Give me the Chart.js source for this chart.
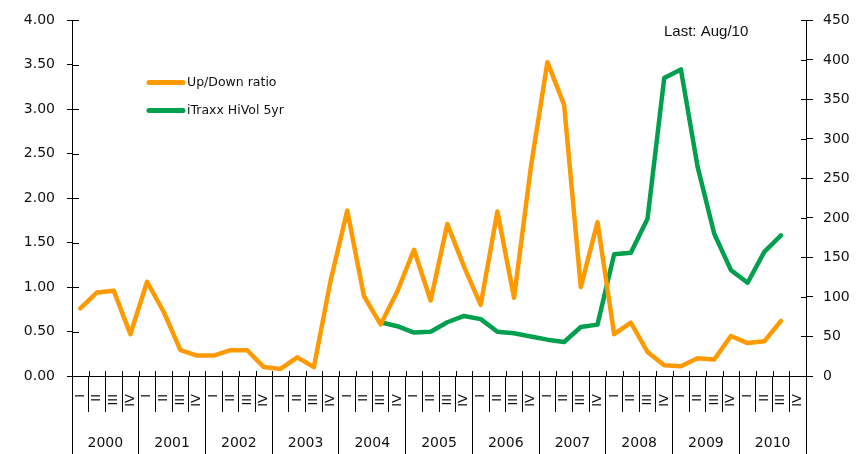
<!doctype html>
<html>
<head>
<meta charset="utf-8">
<title>Up/Down ratio and iTraxx HiVol</title>
<style>
  body { margin: 0; background: #fff; }
  #wrap { position: relative; width: 866px; height: 454px; }
</style>
</head>
<body>
<div id="wrap"><canvas id="chart"></canvas></div>

<script src="https://cdn.jsdelivr.net/npm/chart.js"></script>
<script>
  const years = ['2000', '2001', '2002', '2003', '2004', '2005', '2006', '2007', '2008', '2009', '2010'];
  const quarters = ['I', 'II', 'III', 'IV'];
  const quarterLabels = years.flatMap(() => quarters);

  // left axis, one value per quarter (2000 Q1 .. 2010 Q3)
  const upDownRatio = [
    0.76, 0.94, 0.96, 0.47, 1.06, 0.72, 0.29, 0.23, 0.23, 0.29, 0.29, 0.10,
    0.08, 0.21, 0.10, 1.07, 1.86, 0.90, 0.58, 0.95, 1.42, 0.85, 1.71, 1.23,
    0.80, 1.85, 0.88, 2.34, 3.53, 3.05, 1.00, 1.73, 0.47, 0.60, 0.27, 0.12,
    0.11, 0.20, 0.185, 0.45, 0.37, 0.39, 0.62, null
  ];
  // right axis, starts 2004 Q3
  const itraxxHiVol = [
    null, null, null, null, null, null, null, null, null, null, null, null,
    null, null, null, null, null, null, 68, 63, 55, 56, 68, 76,
    72, 56, 54, 50, 46, 43, 62, 65, 154, 156, 199, 377,
    388, 265, 180, 134, 118, 157, 178, null
  ];

  const leftTicks = { min: 0, max: 4, step: 0.5 };
  const rightTicks = { min: 0, max: 450, step: 50 };

  const ORANGE = '#ff9900';
  const GREEN = '#00a04f';
  const TXT = '#111';
  const FONT = 'DejaVu Sans';

  // tick marks that cross the axes, legend and note
  const extras = {
    id: 'extras',
    afterDraw(chart) {
      const { ctx, chartArea: a, scales } = chart;
      ctx.save();
      ctx.strokeStyle = '#000';
      ctx.lineWidth = 1;
      ctx.beginPath();
      const x = scales.x;
      const step = x.getPixelForValue(1) - x.getPixelForValue(0);
      for (let i = 0; i <= quarterLabels.length; i++) {
        const px = Math.round(x.getPixelForValue(i) - step / 2) + 0.5;
        ctx.moveTo(px, a.bottom - 5);
        ctx.lineTo(px, a.bottom);
      }
      scales.y.ticks.forEach((t, i) => {
        const py = Math.round(scales.y.getPixelForTick(i)) + 0.5;
        ctx.moveTo(a.left, py);
        ctx.lineTo(a.left + 7, py);
      });
      scales.y1.ticks.forEach((t, i) => {
        const py = Math.round(scales.y1.getPixelForTick(i)) + 0.5;
        ctx.moveTo(a.right - 5, py);
        ctx.lineTo(a.right, py);
      });
      ctx.stroke();

      // legend
      ctx.font = '12.5px "' + FONT + '"';
      ctx.textBaseline = 'middle';
      ctx.lineCap = 'round';
      chart.data.datasets.forEach((ds, i) => {
        const ly = a.top + 62 + i * 28;
        ctx.strokeStyle = ds.borderColor;
        ctx.lineWidth = 5;
        ctx.beginPath();
        ctx.moveTo(a.left + 77, ly);
        ctx.lineTo(a.left + 111, ly);
        ctx.stroke();
        ctx.fillStyle = TXT;
        ctx.fillText(ds.label, a.left + 115, ly);
      });

      ctx.font = '15px "Liberation Sans"';
      ctx.fillText('Last: Aug/10', a.left + 592, a.top + 11);
      ctx.restore();
    }
  };

  new Chart(document.getElementById('chart'), {
    type: 'line',
    data: {
      labels: quarterLabels,
      datasets: [
        {
          label: 'Up/Down ratio',
          data: upDownRatio,
          borderColor: ORANGE,
          yAxisID: 'y',
          xAxisID: 'x'
        },
        {
          label: 'iTraxx HiVol 5yr',
          data: itraxxHiVol,
          borderColor: GREEN,
          yAxisID: 'y1',
          xAxisID: 'x'
        }
      ]
    },
    options: {
      responsive: true,
      maintainAspectRatio: false,
      animation: false,
      layout: { padding: { top: 15, left: 0, right: 0, bottom: 0 } },
      elements: {
        line: { borderWidth: 4.5, tension: 0, borderJoinStyle: 'round', borderCapStyle: 'round' },
        point: { radius: 0 }
      },
      plugins: {
        legend: { display: false },
        tooltip: { enabled: false }
      },
      scales: {
        x: {
          type: 'category',
          position: 'bottom',
          offset: true,
          afterFit: s => { s.height = 36; },
          border: { color: '#000', width: 1 },
          grid: { offset: true, drawOnChartArea: false, tickLength: 36, color: '#000' },
          ticks: {
            autoSkip: false, minRotation: 90, maxRotation: 90, padding: -18,
            color: TXT, font: { family: FONT, size: 13 }
          }
        },
        x2: {
          type: 'category',
          position: 'bottom',
          labels: years,
          offset: true,
          afterFit: s => { s.height = 42; },
          border: { display: false },
          grid: { offset: true, drawOnChartArea: false, tickLength: 42, color: '#000' },
          ticks: {
            autoSkip: false, maxRotation: 0, padding: -19,
            color: TXT, font: { family: FONT, size: 14 }
          }
        },
        y: {
          position: 'left',
          min: leftTicks.min,
          max: leftTicks.max,
          afterFit: s => { s.width = 72; },
          border: { color: '#000', width: 1 },
          grid: { drawOnChartArea: false, tickLength: 5, color: '#000' },
          ticks: {
            stepSize: leftTicks.step, padding: 12, color: TXT,
            font: { family: FONT, size: 14 },
            callback: v => v.toFixed(2)
          }
        },
        y1: {
          position: 'right',
          min: rightTicks.min,
          max: rightTicks.max,
          afterFit: s => { s.width = 60; },
          border: { color: '#000', width: 1 },
          grid: { drawOnChartArea: false, tickLength: 7, color: '#000' },
          ticks: {
            stepSize: rightTicks.step, padding: 10, color: TXT,
            font: { family: FONT, size: 14 }
          }
        }
      }
    },
    plugins: [extras]
  });
</script>
</body>
</html>
